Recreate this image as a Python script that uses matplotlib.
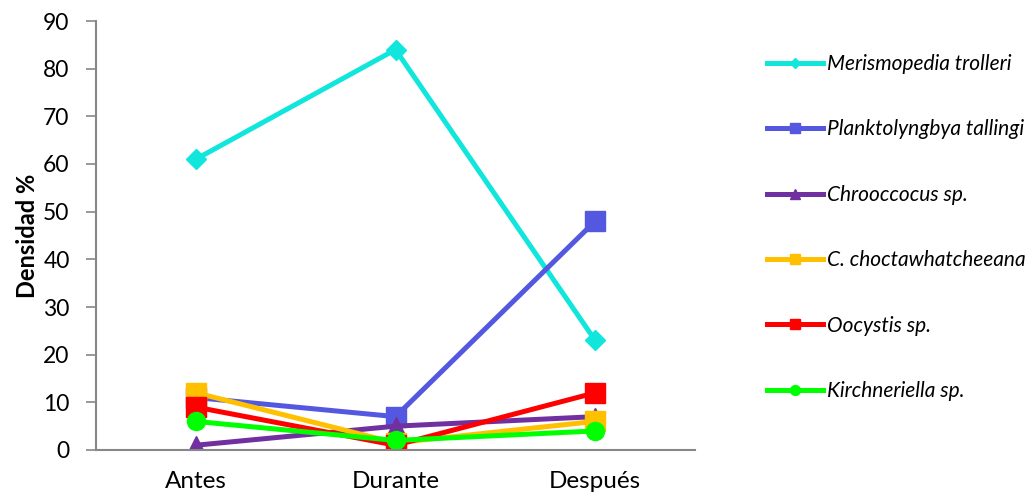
import matplotlib
matplotlib.use("Agg")
import matplotlib.pyplot as plt

categories = ["Antes", "Durante", "Después"]
merismopedia = [61, 84, 23]
planktolyngbya = [11, 7, 48]
chroococcus = [1, 5, 7]
choctawhatcheeana = [12, 1.5, 6]
oocystis = [9, 1, 12]
kirchneriella = [6, 2, 4]

series_names = ["Merismopedia trolleri", "Planktolyngbya tallingi", "Chrooccocus sp.",
                "C. choctawhatcheeana", "Oocystis sp.", "Kirchneriella sp."]
series_values = [merismopedia, planktolyngbya, chroococcus, choctawhatcheeana, oocystis, kirchneriella]
colors = ["#10E6DC", "#5458E0", "#7030A0", "#FFC000", "#FF0000", "#00FF00"]
markers = ["D", "s", "^", "s", "s", "o"]
msizes = [10, 14, 13, 14, 14, 13]

plt.rcParams['font.family'] = ['Lato', 'DejaVu Sans']

fig = plt.figure(figsize=(10.29, 4.99), dpi=100)
ax = fig.add_axes([96/1029, 1-450/499, (695-96)/1029, (450-21)/499])

x = list(range(len(categories)))
for name, vals, c, m, ms in zip(series_names, series_values, colors, markers, msizes):
    ax.plot(x, vals, color=c, lw=3.6, marker=m, markersize=ms, label=name,
            markeredgecolor=c, markerfacecolor=c)

ax.set_xlim(-0.5, 2.5)
ax.set_ylim(0, 90)
ax.set_yticks(range(0, 91, 10))
ax.set_xticks(x)
ax.set_xticklabels(categories)
for s in ["top", "right"]:
    ax.spines[s].set_visible(False)
for s in ["left", "bottom"]:
    ax.spines[s].set_color("#878787")
    ax.spines[s].set_linewidth(1.5)
ax.tick_params(axis="y", direction="out", length=7, width=1.2, color="#878787", labelsize=16.5, pad=12)
ax.tick_params(axis="x", length=0, labelsize=17.5, pad=15)
ax.set_ylabel("Densidad %", fontsize=17, fontweight="bold")
ax.yaxis.set_label_coords(-0.095, 0.5)

leg = ax.legend(loc="upper left", bbox_to_anchor=(767/1029, 1-54/499), bbox_transform=fig.transFigure,
                frameon=False, prop={"style": "italic", "size": 15}, handlelength=2.7,
                handletextpad=0.2, labelspacing=2.18, markerscale=0.55, borderpad=0, borderaxespad=0)

fig.savefig("out.png", dpi=100)
